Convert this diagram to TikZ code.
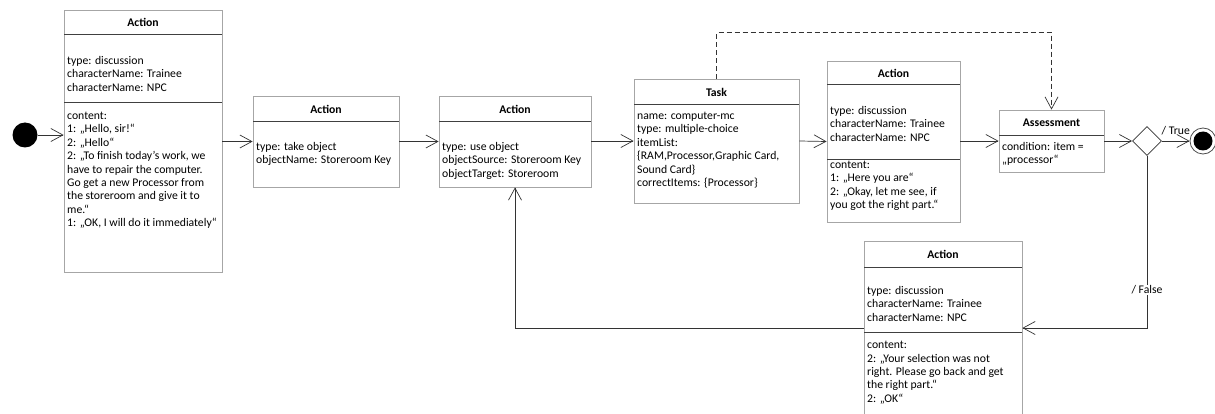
\documentclass[tikz,border=0pt]{standalone}
\usepackage{fontspec}
\setmainfont{Carlito}
\usetikzlibrary{arrows.meta,shapes.geometric}

\begin{document}
\begin{tikzpicture}[
  x=1pt, y=-1pt,
  every node/.style={font=\fontsize{11.7}{13.4}\selectfont},
  box/.style={draw=black!35, line width=0.8pt, rectangle, inner sep=0pt},
  sep/.style={draw=black!75, line width=1pt},
  title/.style={font=\fontsize{11.7}{13.4}\selectfont\bfseries},
  txt/.style={anchor=north west, align=left, inner sep=0pt},
  arr/.style={draw=black!80, line width=0.7pt, -{Straight Barb[length=12pt,width=13pt,line width=0.7pt]}},
  startdot/.style={circle, fill=black, inner sep=0pt, minimum size=25pt},
  enddot/.style={circle, draw=black!70, line width=0.8pt, inner sep=0pt, minimum size=26pt},
  decision/.style={diamond, draw=black!80, line width=0.8pt, inner sep=0pt, minimum size=29pt}
]
\useasboundingbox (0,0) rectangle (1215,414);

% Start node
\node[startdot] (start) at (25,135) {};

% Action 1 - discussion
\node[box, minimum width=158pt, minimum height=262pt] (act1) at (143,141) {};
\node[title] (act1t) at (143,22.5) {Action};
\draw[sep] (64,35) -- (222,35);
\draw[sep] (64,103) -- (222,103);
\node[txt] (act1a) at (67,56) {type: discussion\\characterName: Trainee\\characterName: NPC};
\node[txt] (act1c) at (67,112) {content:\\1: „Hello, sir!“\\2: „Hello“\\2: „To finish today’s work, we\\have to repair the computer.\\Go get a new Processor from\\the storeroom and give it to\\me.“\\1: „OK, I will do it immediately“};

% Action 2 - take object
\node[box, minimum width=146pt, minimum height=91pt] (act2) at (326,141.5) {};
\node[title] (act2t) at (326,109) {Action};
\draw[sep] (253,122) -- (399,122);
\node[txt] (act2a) at (256,142) {type: take object\\objectName: Storeroom Key};

% Action 3 - use object
\node[box, minimum width=152pt, minimum height=91pt] (act3) at (515,141.5) {};
\node[title] (act3t) at (515,109) {Action};
\draw[sep] (439,122) -- (591,122);
\node[txt] (act3a) at (442,142) {type: use object\\objectSource: Storeroom Key\\objectTarget: Storeroom};

% Task
\node[box, minimum width=165pt, minimum height=124pt] (task) at (716.5,141) {};
\node[title] (taskt) at (716.5,92) {Task};
\draw[sep] (634,105) -- (799,105);
\node[txt] (taska) at (637,112) {name: computer-mc\\type: multiple-choice\\itemList:\\\{RAM,Processor,Graphic Card,\\Sound Card\}\\correctItems: \{Processor\}};

% Action 5 - discussion
\node[box, minimum width=133pt, minimum height=161pt] (act5) at (893.5,141.5) {};
\node[title] (act5t) at (893.5,73) {Action};
\draw[sep] (827,85) -- (960,85);
\draw[sep] (827,160) -- (960,160);
\node[txt] (act5a) at (830,106) {type: discussion\\characterName: Trainee\\characterName: NPC};
\node[txt] (act5c) at (830,161) {content:\\1: „Here you are“\\2: „Okay, let me see, if\\you got the right part.“};

% Assessment
\node[box, minimum width=105pt, minimum height=62pt] (asmt) at (1051.5,141) {};
\node[title] (asmtt) at (1051.5,123) {Assessment};
\draw[sep] (999,136) -- (1104,136);
\node[txt] (asmta) at (1002,142) {condition: item =\\„processor“};

% Decision and end
\node[decision] (dec) at (1147,141) {};
\node[enddot] (fin) at (1203,141) {};
\fill (fin.center) circle (9.5pt);

% Action 6 - discussion
\node[box, minimum width=158pt, minimum height=174pt] (act6) at (943,328) {};
\node[title] (act6t) at (943,254) {Action};
\draw[sep] (864,267) -- (1022,267);
\draw[sep] (864,332) -- (1022,332);
\node[txt] (act6a) at (867,286) {type: discussion\\characterName: Trainee\\characterName: NPC};
\node[txt] (act6c) at (867,341) {content:\\2: „Your selection was not\\right. Please go back and get\\the right part.“\\2: „OK“};

% Connectors
\draw[arr] (start) -- (start -| act1.west);
\draw[arr] (act1.east |- act2.west) -- (act2.west);
\draw[arr] (act2.east) -- (act3.west);
\draw[arr] (act3.east |- task.west) -- (task.west);
\draw[arr] (task.east) -- (act5.west);
\draw[arr] (act5.east |- asmt.west) -- (asmt.west);
\draw[arr] (asmt.east) -- (dec.west);
\draw[arr] (dec.east) -- node[above, yshift=2pt] {/ True} (fin.west);
\draw[arr] (dec.south) |- node[pos=0.39, fill=white, inner sep=1pt] {/ False} (act6.east);
\draw[arr] (act6.west) -| (act3.south);
\draw[arr, dash pattern=on 5pt off 3pt] (task.north) -- ++(0,-46) -| (asmt.north);

\end{tikzpicture}
\end{document}
